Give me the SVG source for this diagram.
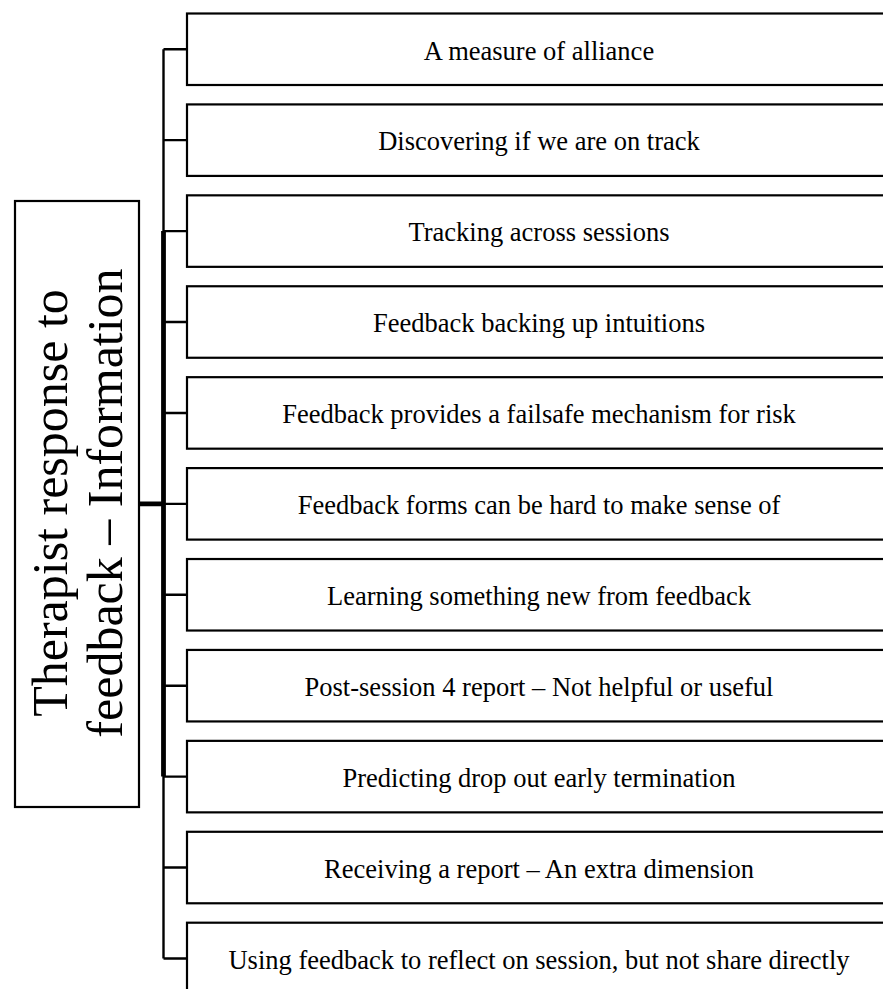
<svg xmlns="http://www.w3.org/2000/svg" width="883" height="989" viewBox="0 0 883 989">
  <style>
    .box { fill: #ffffff; stroke: #000000; stroke-width: 2.2; }
    .lbl { font-family: "Liberation Serif", "Times New Roman", serif; font-size: 26.5px; fill: #000000; text-anchor: middle; }
    .root { font-family: "Liberation Serif", "Times New Roman", serif; font-size: 50px; fill: #000000; text-anchor: middle; }
    .wire { fill: none; stroke: #000000; stroke-width: 2.4; }
    .trunk { fill: none; stroke: #000000; stroke-width: 4.8; }
  </style>
  <rect width="883" height="989" fill="#ffffff"/>

  <!-- connectors: root to spine, spine to every item -->
  <g id="connectors">
    <path class="wire" d="M163.5,49.25 V958.45"/>
    <path class="trunk" d="M163.5,231.09 V776.61 M139,503.85 H163.5"/>
    <path class="wire" d="M163.5,49.25 H187 M163.5,140.17 H187 M163.5,231.09 H187 M163.5,322.01 H187 M163.5,412.93 H187 M163.5,503.85 H187 M163.5,594.77 H187 M163.5,685.69 H187 M163.5,776.61 H187 M163.5,867.53 H187 M163.5,958.45 H187"/>
  </g>

  <!-- root node, vertical title -->
  <g id="root">
    <rect class="box" x="15" y="201" width="124" height="606"/>
    <g transform="translate(77,503) rotate(-90)">
      <text class="root" x="0" y="-10">Therapist response to</text>
      <text class="root" x="0" y="45">feedback – Information</text>
    </g>
  </g>

  <g id="item1">
    <rect class="box" x="187" y="13.5" width="710" height="71.5"/>
    <text class="lbl" x="539" y="59.5">A measure of alliance</text>
  </g>
  <g id="item2">
    <rect class="box" x="187" y="104.42" width="710" height="71.5"/>
    <text class="lbl" x="539" y="150.4">Discovering if we are on track</text>
  </g>
  <g id="item3">
    <rect class="box" x="187" y="195.34" width="710" height="71.5"/>
    <text class="lbl" x="539" y="241.3">Tracking across sessions</text>
  </g>
  <g id="item4">
    <rect class="box" x="187" y="286.26" width="710" height="71.5"/>
    <text class="lbl" x="539" y="332.2">Feedback backing up intuitions</text>
  </g>
  <g id="item5">
    <rect class="box" x="187" y="377.18" width="710" height="71.5"/>
    <text class="lbl" x="539" y="423.2">Feedback provides a failsafe mechanism for risk</text>
  </g>
  <g id="item6">
    <rect class="box" x="187" y="468.1" width="710" height="71.5"/>
    <text class="lbl" x="539" y="514.1">Feedback forms can be hard to make sense of</text>
  </g>
  <g id="item7">
    <rect class="box" x="187" y="559.02" width="710" height="71.5"/>
    <text class="lbl" x="539" y="605">Learning something new from feedback</text>
  </g>
  <g id="item8">
    <rect class="box" x="187" y="649.94" width="710" height="71.5"/>
    <text class="lbl" x="539" y="695.9">Post-session 4 report – Not helpful or useful</text>
  </g>
  <g id="item9">
    <rect class="box" x="187" y="740.86" width="710" height="71.5"/>
    <text class="lbl" x="539" y="786.8">Predicting drop out early termination</text>
  </g>
  <g id="item10">
    <rect class="box" x="187" y="831.78" width="710" height="71.5"/>
    <text class="lbl" x="539" y="877.7">Receiving a report – An extra dimension</text>
  </g>
  <g id="item11">
    <rect class="box" x="187" y="922.7" width="710" height="71.5"/>
    <text class="lbl" x="539" y="968.7">Using feedback to reflect on session, but not share directly</text>
  </g>
</svg>
